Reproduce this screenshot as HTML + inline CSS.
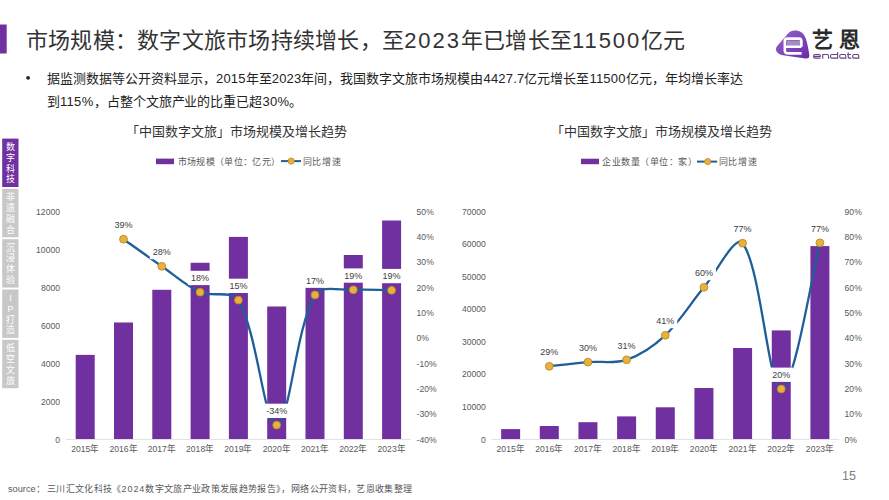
<!DOCTYPE html>
<html lang="zh-CN"><head><meta charset="utf-8"><style>
html,body{margin:0;padding:0;background:#fff;}
body{width:889px;height:500px;overflow:hidden;position:relative;font-family:"Liberation Sans", sans-serif;}
svg{position:absolute;left:0;top:0;font-family:"Liberation Sans", sans-serif;}
</style></head><body>
<svg width="889" height="500" viewBox="0 0 889 500">
<rect x="0" y="0" width="889" height="500" fill="#fff"/>
<!-- header bar -->
<rect x="0" y="24.5" width="6.7" height="29" fill="#7030A0"/>
<text x="26" y="48" font-size="22" fill="#333" letter-spacing="0.25" textLength="659.59" lengthAdjust="spacing">市场规模：数字文旅市场持续增长，至<tspan letter-spacing="1.9">2023</tspan>年已增长至<tspan letter-spacing="1.9">11500</tspan>亿元</text>
<!-- logo -->
<defs><linearGradient id="lg" x1="0" y1="0" x2="1" y2="1"><stop offset="0" stop-color="#9566CC"/><stop offset="1" stop-color="#6A2AA8"/></linearGradient></defs>
<path d="M794.5,30.5 C799.5,30.3 803.6,32.6 805.6,38 C807.3,43 808.7,50 809.3,55 C809.6,57.8 808,58.9 805.5,58.5 L783,55.2 C777.4,54.4 774.4,50.6 776.8,46.6 L788.3,33.2 C790,31.5 792,30.6 794.5,30.5 Z" fill="url(#lg)"/>
<rect x="786.8" y="40.6" width="13.6" height="5.2" fill="#A58CC4"/>
<path d="M801.4,46.8 V41.2 Q801.4,38.6 798.8,38.6 H787.4 Q784.8,38.6 784.8,41.2 V50.6 Q784.8,53.4 787.6,53.4 H801.6 M784.8,46.8 H801.4" fill="none" stroke="#fff" stroke-width="2.6" stroke-linejoin="round"/>
<text x="812" y="47.3" font-size="21" font-weight="bold" fill="#2a2a2a" letter-spacing="5.5" textLength="53.00" lengthAdjust="spacing">艺恩</text>
<path d="M813.6,56.4 H820.3 V55.8 Q820.3,54.55 819,54.55 H815 Q813.6,54.55 813.6,56 V56.8 Q813.6,58.15 815,58.15 H820.3 M822.75,58.7 V54.55 H827.2 Q828.55,54.55 828.55,55.9 V58.7 M837.65,52.1 V58.15 H831.9 Q830.55,58.15 830.55,56.8 V55.9 Q830.55,54.55 831.9,54.55 H837.65 M845.85,55.9 Q845.85,54.55 844.5,54.55 H841.1 Q839.75,54.55 839.75,55.9 V56.8 Q839.75,58.15 841.1,58.15 H845.85 Z M848.2,52.5 V56.8 Q848.2,58.15 849.5,58.15 H851.4 M847,54.55 H851 M858.75,55.9 Q858.75,54.55 857.4,54.55 H854 Q852.65,54.55 852.65,55.9 V56.8 Q852.65,58.15 854,58.15 H858.75 Z" fill="none" stroke="#644483" stroke-width="1.1"/>
<!-- bullet -->
<circle cx="28.1" cy="77.8" r="1.9" fill="#222"/>
<text x="47" y="83" font-size="13" fill="#222" textLength="695.62" lengthAdjust="spacing">据监测数据等公开资料显示，<tspan letter-spacing="0.2">2015</tspan>年至<tspan letter-spacing="0.2">2023</tspan>年间，我国数字文旅市场规模由<tspan letter-spacing="0.2">4427.7</tspan>亿元增长至<tspan letter-spacing="0.2">11500</tspan>亿元，年均增长率达</text>
<text x="47" y="106" font-size="13" fill="#222" textLength="255.41" lengthAdjust="spacing">到<tspan letter-spacing="0.3">115%</tspan>，占整个文旅产业的比重已超<tspan letter-spacing="0.3">30%</tspan>。</text>
<!-- sidebar -->
<rect x="2.2" y="138.6" width="16.3" height="48.4" fill="#7030A0"/>
<text x="10.4" y="150" font-size="9" fill="#fff" text-anchor="middle">数</text>
<text x="10.4" y="160.8" font-size="9" fill="#fff" text-anchor="middle">字</text>
<text x="10.4" y="171.6" font-size="9" fill="#fff" text-anchor="middle">科</text>
<text x="10.4" y="182.4" font-size="9" fill="#fff" text-anchor="middle">技</text>
<rect x="2.2" y="188.9" width="16.3" height="48.4" fill="#C8C8C8"/>
<text x="10.4" y="200.3" font-size="9" fill="#fff" text-anchor="middle">非</text>
<text x="10.4" y="211.1" font-size="9" fill="#fff" text-anchor="middle">遗</text>
<text x="10.4" y="221.9" font-size="9" fill="#fff" text-anchor="middle">融</text>
<text x="10.4" y="232.7" font-size="9" fill="#fff" text-anchor="middle">合</text>
<rect x="2.2" y="239.2" width="16.3" height="48.4" fill="#C8C8C8"/>
<text x="10.4" y="250.6" font-size="9" fill="#fff" text-anchor="middle">沉</text>
<text x="10.4" y="261.4" font-size="9" fill="#fff" text-anchor="middle">浸</text>
<text x="10.4" y="272.2" font-size="9" fill="#fff" text-anchor="middle">体</text>
<text x="10.4" y="283" font-size="9" fill="#fff" text-anchor="middle">验</text>
<rect x="2.2" y="289.5" width="16.3" height="48.4" fill="#C8C8C8"/>
<text x="10.4" y="300.9" font-size="9" fill="#fff" text-anchor="middle">I</text>
<text x="10.4" y="311.7" font-size="9" fill="#fff" text-anchor="middle">P</text>
<text x="10.4" y="322.5" font-size="9" fill="#fff" text-anchor="middle">打</text>
<text x="10.4" y="333.3" font-size="9" fill="#fff" text-anchor="middle">造</text>
<rect x="2.2" y="339.8" width="16.3" height="48.4" fill="#C8C8C8"/>
<text x="10.4" y="351.2" font-size="9" fill="#fff" text-anchor="middle">低</text>
<text x="10.4" y="362" font-size="9" fill="#fff" text-anchor="middle">空</text>
<text x="10.4" y="372.8" font-size="9" fill="#fff" text-anchor="middle">文</text>
<text x="10.4" y="383.6" font-size="9" fill="#fff" text-anchor="middle">旅</text>
<!-- chart titles -->
<text x="125.5" y="136" font-size="13" fill="#333" textLength="221.00" lengthAdjust="spacing">「中国数字文旅」市场规模及增长趋势</text>
<text x="551" y="136" font-size="13" fill="#333" textLength="221.00" lengthAdjust="spacing">「中国数字文旅」市场规模及增长趋势</text>
<!-- legends -->
<rect x="156" y="158.6" width="18" height="5.6" fill="#7030A0"/>
<text x="177.5" y="164.5" font-size="9" fill="#595959" textLength="102.4" lengthAdjust="spacing">市场规模（单位：亿元）</text>
<line x1="281" y1="161.1" x2="301" y2="161.1" stroke="#1F5E98" stroke-width="2"/>
<circle cx="291.2" cy="161.1" r="3.1" fill="#EAB13A" stroke="#B98A2C" stroke-width="0.8"/>
<text x="302.5" y="164.5" font-size="9" fill="#595959" textLength="38" lengthAdjust="spacing">同比增速</text>
<rect x="581" y="158.7" width="18" height="5.5" fill="#7030A0"/>
<text x="602" y="164.8" font-size="9" fill="#595959" textLength="95" lengthAdjust="spacing">企业数量（单位：家）</text>
<line x1="697" y1="161.6" x2="717.2" y2="161.6" stroke="#1F5E98" stroke-width="2"/>
<circle cx="707.7" cy="161.6" r="3.1" fill="#EAB13A" stroke="#B98A2C" stroke-width="0.8"/>
<text x="718.5" y="164.8" font-size="9" fill="#595959" textLength="38" lengthAdjust="spacing">同比增速</text>
<!-- charts -->
<line x1="66.05" y1="439.5" x2="410.75" y2="439.5" stroke="#E2E2E2" stroke-width="1"/>
<rect x="75.7" y="354.87" width="19" height="84.13" fill="#7030A0"/>
<rect x="114" y="322.49" width="19" height="116.51" fill="#7030A0"/>
<rect x="152.3" y="289.79" width="19" height="149.21" fill="#7030A0"/>
<rect x="190.6" y="262.79" width="19" height="176.21" fill="#7030A0"/>
<rect x="228.9" y="236.9" width="19" height="202.1" fill="#7030A0"/>
<rect x="267.2" y="306.49" width="19" height="132.51" fill="#7030A0"/>
<rect x="305.5" y="287.3" width="19" height="151.7" fill="#7030A0"/>
<rect x="343.8" y="255" width="19" height="184" fill="#7030A0"/>
<rect x="382.1" y="220.5" width="19" height="218.5" fill="#7030A0"/>
<path d="M123.5,239.2 C129.88,243.72 148.94,257.4 161.8,266.3 C174.47,275.07 186.27,286.1 200.1,292.2 C211.8,297.36 232.52,289.9 238.4,300.1 C258.05,334.2 264.17,425.95 276.7,425.1 C289.71,424.22 295.13,330.01 315,294.9 C320.66,284.91 340.48,290.57 353.3,289.8 C366.01,289.04 385.22,290.22 391.6,290.3" fill="none" stroke="#1F5E98" stroke-width="2.3" stroke-linejoin="round" stroke-linecap="round"/>
<circle cx="123.5" cy="239.2" r="3.9" fill="#EAB13A" stroke="#B98A2C" stroke-width="0.9"/>
<circle cx="161.8" cy="266.3" r="3.9" fill="#EAB13A" stroke="#B98A2C" stroke-width="0.9"/>
<circle cx="200.1" cy="292.2" r="3.9" fill="#EAB13A" stroke="#B98A2C" stroke-width="0.9"/>
<circle cx="238.4" cy="300.1" r="3.9" fill="#EAB13A" stroke="#B98A2C" stroke-width="0.9"/>
<circle cx="276.7" cy="425.1" r="3.9" fill="#EAB13A" stroke="#B98A2C" stroke-width="0.9"/>
<circle cx="315" cy="294.9" r="3.9" fill="#EAB13A" stroke="#B98A2C" stroke-width="0.9"/>
<circle cx="353.3" cy="289.8" r="3.9" fill="#EAB13A" stroke="#B98A2C" stroke-width="0.9"/>
<circle cx="391.6" cy="290.3" r="3.9" fill="#EAB13A" stroke="#B98A2C" stroke-width="0.9"/>
<rect x="111.5" y="217.8" width="24.01" height="14.3" fill="#fff"/>
<text x="123.5" y="228.1" font-size="9" fill="#404040" text-anchor="middle">39%</text>
<rect x="149.8" y="244.9" width="24.01" height="14.3" fill="#fff"/>
<text x="161.8" y="255.2" font-size="9" fill="#404040" text-anchor="middle">28%</text>
<rect x="188.1" y="270.8" width="24.01" height="14.3" fill="#fff"/>
<text x="200.1" y="281.1" font-size="9" fill="#404040" text-anchor="middle">18%</text>
<rect x="226.4" y="278.7" width="24.01" height="14.3" fill="#fff"/>
<text x="238.4" y="289" font-size="9" fill="#404040" text-anchor="middle">15%</text>
<rect x="263.2" y="403.7" width="27.01" height="14.3" fill="#fff"/>
<text x="276.7" y="414" font-size="9" fill="#404040" text-anchor="middle">-34%</text>
<rect x="303" y="273.5" width="24.01" height="14.3" fill="#fff"/>
<text x="315" y="283.8" font-size="9" fill="#404040" text-anchor="middle">17%</text>
<rect x="341.3" y="268.4" width="24.01" height="14.3" fill="#fff"/>
<text x="353.3" y="278.7" font-size="9" fill="#404040" text-anchor="middle">19%</text>
<rect x="379.6" y="268.9" width="24.01" height="14.3" fill="#fff"/>
<text x="391.6" y="279.2" font-size="9" fill="#404040" text-anchor="middle">19%</text>
<text x="60" y="442.5" font-size="8.6" fill="#595959" text-anchor="end">0</text>
<text x="60" y="404.5" font-size="8.6" fill="#595959" text-anchor="end">2000</text>
<text x="60" y="366.5" font-size="8.6" fill="#595959" text-anchor="end">4000</text>
<text x="60" y="328.5" font-size="8.6" fill="#595959" text-anchor="end">6000</text>
<text x="60" y="290.5" font-size="8.6" fill="#595959" text-anchor="end">8000</text>
<text x="60" y="252.5" font-size="8.6" fill="#595959" text-anchor="end">10000</text>
<text x="60" y="214.5" font-size="8.6" fill="#595959" text-anchor="end">12000</text>
<text x="416.6" y="442.5" font-size="8.6" fill="#595959">-40%</text>
<text x="416.6" y="417.17" font-size="8.6" fill="#595959">-30%</text>
<text x="416.6" y="391.83" font-size="8.6" fill="#595959">-20%</text>
<text x="416.6" y="366.5" font-size="8.6" fill="#595959">-10%</text>
<text x="416.6" y="341.17" font-size="8.6" fill="#595959">0%</text>
<text x="416.6" y="315.84" font-size="8.6" fill="#595959">10%</text>
<text x="416.6" y="290.5" font-size="8.6" fill="#595959">20%</text>
<text x="416.6" y="265.17" font-size="8.6" fill="#595959">30%</text>
<text x="416.6" y="239.84" font-size="8.6" fill="#595959">40%</text>
<text x="416.6" y="214.5" font-size="8.6" fill="#595959">50%</text>
<text x="85.2" y="452.2" font-size="8.6" fill="#595959" text-anchor="middle" textLength="28.12" lengthAdjust="spacing">2015年</text>
<text x="123.5" y="452.2" font-size="8.6" fill="#595959" text-anchor="middle" textLength="28.12" lengthAdjust="spacing">2016年</text>
<text x="161.8" y="452.2" font-size="8.6" fill="#595959" text-anchor="middle" textLength="28.12" lengthAdjust="spacing">2017年</text>
<text x="200.1" y="452.2" font-size="8.6" fill="#595959" text-anchor="middle" textLength="28.12" lengthAdjust="spacing">2018年</text>
<text x="238.4" y="452.2" font-size="8.6" fill="#595959" text-anchor="middle" textLength="28.12" lengthAdjust="spacing">2019年</text>
<text x="276.7" y="452.2" font-size="8.6" fill="#595959" text-anchor="middle" textLength="28.12" lengthAdjust="spacing">2020年</text>
<text x="315" y="452.2" font-size="8.6" fill="#595959" text-anchor="middle" textLength="28.12" lengthAdjust="spacing">2021年</text>
<text x="353.3" y="452.2" font-size="8.6" fill="#595959" text-anchor="middle" textLength="28.12" lengthAdjust="spacing">2022年</text>
<text x="391.6" y="452.2" font-size="8.6" fill="#595959" text-anchor="middle" textLength="28.12" lengthAdjust="spacing">2023年</text>
<line x1="491.3" y1="439.5" x2="839.24" y2="439.5" stroke="#E2E2E2" stroke-width="1"/>
<rect x="501.13" y="429.1" width="19" height="9.9" fill="#7030A0"/>
<rect x="539.79" y="426" width="19" height="13" fill="#7030A0"/>
<rect x="578.45" y="422.2" width="19" height="16.8" fill="#7030A0"/>
<rect x="617.11" y="416.4" width="19" height="22.6" fill="#7030A0"/>
<rect x="655.77" y="407.3" width="19" height="31.7" fill="#7030A0"/>
<rect x="694.43" y="388" width="19" height="51" fill="#7030A0"/>
<rect x="733.09" y="348" width="19" height="91" fill="#7030A0"/>
<rect x="771.75" y="330.4" width="19" height="108.6" fill="#7030A0"/>
<rect x="810.41" y="246.1" width="19" height="192.9" fill="#7030A0"/>
<path d="M549.29,366.3 C555.73,365.6 575.04,363.19 587.95,362.1 C600.81,361.02 614.8,363.89 626.61,359.8 C640.57,354.96 654.29,345.6 665.27,335.3 C680.06,321.43 690.72,303.03 703.93,287.3 C716.5,272.33 735.37,233.71 742.59,243.2 C761.15,267.61 768.38,389.07 781.25,389 C794.15,388.93 813.47,267.17 819.91,242.8" fill="none" stroke="#1F5E98" stroke-width="2.3" stroke-linejoin="round" stroke-linecap="round"/>
<circle cx="549.29" cy="366.3" r="3.9" fill="#EAB13A" stroke="#B98A2C" stroke-width="0.9"/>
<circle cx="587.95" cy="362.1" r="3.9" fill="#EAB13A" stroke="#B98A2C" stroke-width="0.9"/>
<circle cx="626.61" cy="359.8" r="3.9" fill="#EAB13A" stroke="#B98A2C" stroke-width="0.9"/>
<circle cx="665.27" cy="335.3" r="3.9" fill="#EAB13A" stroke="#B98A2C" stroke-width="0.9"/>
<circle cx="703.93" cy="287.3" r="3.9" fill="#EAB13A" stroke="#B98A2C" stroke-width="0.9"/>
<circle cx="742.59" cy="243.2" r="3.9" fill="#EAB13A" stroke="#B98A2C" stroke-width="0.9"/>
<circle cx="781.25" cy="389" r="3.9" fill="#EAB13A" stroke="#B98A2C" stroke-width="0.9"/>
<circle cx="819.91" cy="242.8" r="3.9" fill="#EAB13A" stroke="#B98A2C" stroke-width="0.9"/>
<rect x="537.29" y="344.9" width="24.01" height="14.3" fill="#fff"/>
<text x="549.29" y="355.2" font-size="9" fill="#404040" text-anchor="middle">29%</text>
<rect x="575.95" y="340.7" width="24.01" height="14.3" fill="#fff"/>
<text x="587.95" y="351" font-size="9" fill="#404040" text-anchor="middle">30%</text>
<rect x="614.61" y="338.4" width="24.01" height="14.3" fill="#fff"/>
<text x="626.61" y="348.7" font-size="9" fill="#404040" text-anchor="middle">31%</text>
<rect x="653.27" y="313.9" width="24.01" height="14.3" fill="#fff"/>
<text x="665.27" y="324.2" font-size="9" fill="#404040" text-anchor="middle">41%</text>
<rect x="691.93" y="265.9" width="24.01" height="14.3" fill="#fff"/>
<text x="703.93" y="276.2" font-size="9" fill="#404040" text-anchor="middle">60%</text>
<rect x="730.59" y="221.8" width="24.01" height="14.3" fill="#fff"/>
<text x="742.59" y="232.1" font-size="9" fill="#404040" text-anchor="middle">77%</text>
<rect x="769.25" y="367.6" width="24.01" height="14.3" fill="#fff"/>
<text x="781.25" y="377.9" font-size="9" fill="#404040" text-anchor="middle">20%</text>
<rect x="807.91" y="221.4" width="24.01" height="14.3" fill="#fff"/>
<text x="819.91" y="231.7" font-size="9" fill="#404040" text-anchor="middle">77%</text>
<text x="485.9" y="442.5" font-size="8.6" fill="#595959" text-anchor="end">0</text>
<text x="485.9" y="409.93" font-size="8.6" fill="#595959" text-anchor="end">10000</text>
<text x="485.9" y="377.36" font-size="8.6" fill="#595959" text-anchor="end">20000</text>
<text x="485.9" y="344.79" font-size="8.6" fill="#595959" text-anchor="end">30000</text>
<text x="485.9" y="312.22" font-size="8.6" fill="#595959" text-anchor="end">40000</text>
<text x="485.9" y="279.64" font-size="8.6" fill="#595959" text-anchor="end">50000</text>
<text x="485.9" y="247.07" font-size="8.6" fill="#595959" text-anchor="end">60000</text>
<text x="485.9" y="214.5" font-size="8.6" fill="#595959" text-anchor="end">70000</text>
<text x="844.6" y="442.5" font-size="8.6" fill="#595959">0%</text>
<text x="844.6" y="417.17" font-size="8.6" fill="#595959">10%</text>
<text x="844.6" y="391.83" font-size="8.6" fill="#595959">20%</text>
<text x="844.6" y="366.5" font-size="8.6" fill="#595959">30%</text>
<text x="844.6" y="341.17" font-size="8.6" fill="#595959">40%</text>
<text x="844.6" y="315.84" font-size="8.6" fill="#595959">50%</text>
<text x="844.6" y="290.5" font-size="8.6" fill="#595959">60%</text>
<text x="844.6" y="265.17" font-size="8.6" fill="#595959">70%</text>
<text x="844.6" y="239.84" font-size="8.6" fill="#595959">80%</text>
<text x="844.6" y="214.5" font-size="8.6" fill="#595959">90%</text>
<text x="510.63" y="452.2" font-size="8.6" fill="#595959" text-anchor="middle" textLength="28.12" lengthAdjust="spacing">2015年</text>
<text x="549.29" y="452.2" font-size="8.6" fill="#595959" text-anchor="middle" textLength="28.12" lengthAdjust="spacing">2016年</text>
<text x="587.95" y="452.2" font-size="8.6" fill="#595959" text-anchor="middle" textLength="28.12" lengthAdjust="spacing">2017年</text>
<text x="626.61" y="452.2" font-size="8.6" fill="#595959" text-anchor="middle" textLength="28.12" lengthAdjust="spacing">2018年</text>
<text x="665.27" y="452.2" font-size="8.6" fill="#595959" text-anchor="middle" textLength="28.12" lengthAdjust="spacing">2019年</text>
<text x="703.93" y="452.2" font-size="8.6" fill="#595959" text-anchor="middle" textLength="28.12" lengthAdjust="spacing">2020年</text>
<text x="742.59" y="452.2" font-size="8.6" fill="#595959" text-anchor="middle" textLength="28.12" lengthAdjust="spacing">2021年</text>
<text x="781.25" y="452.2" font-size="8.6" fill="#595959" text-anchor="middle" textLength="28.12" lengthAdjust="spacing">2022年</text>
<text x="819.91" y="452.2" font-size="8.6" fill="#595959" text-anchor="middle" textLength="28.12" lengthAdjust="spacing">2023年</text>
<!-- footer -->
<text x="8" y="492" font-size="9.2" fill="#595959" textLength="36.58" lengthAdjust="spacing">source：</text>
<text x="46.8" y="492" font-size="9" fill="#595959" letter-spacing="0.35" textLength="365.59" lengthAdjust="spacing">三川汇文化科技《<tspan letter-spacing="0.9">2024</tspan>数字文旅产业政策发展趋势报告》，网络公开资料，艺恩收集整理</text>
<text x="842" y="479.5" font-size="12.5" fill="#7F7F7F">15</text>
</svg>
</body></html>
